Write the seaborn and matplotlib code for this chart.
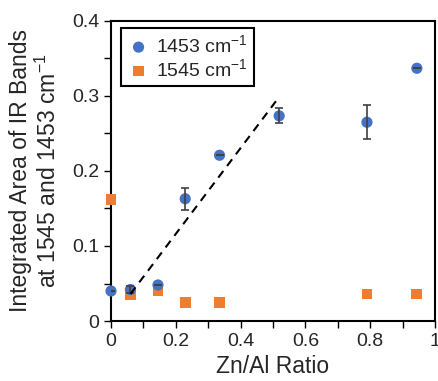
import matplotlib
matplotlib.use("Agg")
import matplotlib.pyplot as plt
import seaborn as sns
import pandas as pd
import numpy as np

# Data
ratio_1453 = [0.0, 0.060, 0.145, 0.229, 0.335, 0.519, 0.790, 0.944]
area_1453 = [0.040, 0.042, 0.048, 0.163, 0.221, 0.2735, 0.265, 0.337]
err_1453 = [0.0, 0.005, 0.0, 0.0145, 0.0, 0.010, 0.023, 0.0]

ratio_1545 = [0.0, 0.060, 0.145, 0.229, 0.335, 0.790, 0.944]
area_1545 = [0.162, 0.035, 0.041, 0.025, 0.0245, 0.036, 0.036]

fit_x = [0.060, 0.509]
fit_y = [0.036, 0.293]

xticks = [0, 0.2, 0.4, 0.6, 0.8, 1]
xtick_labels = ["0", "0.2", "0.4", "0.6", "0.8", "1"]
yticks = [0, 0.1, 0.2, 0.3, 0.4]
ytick_labels = ["0", "0.1", "0.2", "0.3", "0.4"]

sns.set_style("ticks")
plt.rcParams['font.family'] = ['Liberation Sans', 'DejaVu Sans']
plt.rcParams['mathtext.fontset'] = 'custom'
plt.rcParams['mathtext.rm'] = 'Liberation Sans'
plt.rcParams['mathtext.it'] = 'Liberation Sans'
plt.rcParams['mathtext.default'] = 'regular'

fig = plt.figure(figsize=(4.38, 3.81), dpi=100)
ax = fig.add_axes([111/438, 1-321/381, 324/438, 300/381])

blue = "#4472C4"
orange = "#ED7D31"
txt = "#262626"

df_o = pd.DataFrame({"x": ratio_1545, "y": area_1545})
df_b = pd.DataFrame({"x": ratio_1453, "y": area_1453})

lab_b = "1453 cm$^{-1}$"
lab_o = "1545 cm$^{-1}$"

sns.scatterplot(data=df_o, x="x", y="y", ax=ax, marker="s", s=60, color=orange,
                edgecolor="none", label=lab_o, zorder=3, clip_on=False)
sns.scatterplot(data=df_b, x="x", y="y", ax=ax, marker="o", s=65, color=blue,
                edgecolor="none", label=lab_b, zorder=4, clip_on=False)
ax.errorbar(ratio_1453, area_1453, yerr=err_1453, fmt="none", ecolor="#404040",
            elinewidth=1.2, capsize=3, capthick=1.2, zorder=5)
sns.lineplot(x=fit_x, y=fit_y, ax=ax, color="black", linestyle=(0, (4, 3)),
             linewidth=1.5, zorder=6)

ax.set_xlim(0, 1)
ax.set_ylim(0, 0.4)
ax.set_xticks(xticks)
ax.set_xticklabels(xtick_labels)
ax.set_yticks(yticks)
ax.set_yticklabels(ytick_labels)
ax.set_xticks(np.arange(0.1, 1.0, 0.2), minor=True)
ax.set_yticks(np.arange(0.05, 0.4, 0.1), minor=True)
ax.tick_params(which="both", direction="out", length=5, width=1, color="black",
               labelsize=14, labelcolor=txt)

for sp in ax.spines.values():
    sp.set_visible(True)
    sp.set_color("black")
    sp.set_linewidth(1.5)

ax.set_xlabel("Zn/Al Ratio", fontsize=16.5, color=txt, labelpad=4)
ax.set_ylabel("Integrated Area of IR Bands\nat 1545 and 1453 cm$^{-1}$", fontsize=16.5,
              color=txt, labelpad=8)

handles, labels = ax.get_legend_handles_labels()
order = [labels.index(lab_b), labels.index(lab_o)]
leg = ax.legend([handles[i] for i in order], [labels[i] for i in order],
                loc="upper left", bbox_to_anchor=(0.031, 0.975), fontsize=14,
                frameon=True, fancybox=False, framealpha=1, edgecolor="black",
                handletextpad=0.3, borderpad=0.3, labelspacing=0.1,
                handlelength=1.2, borderaxespad=0)
leg.get_frame().set_linewidth(1.5)
for t in leg.get_texts():
    t.set_color(txt)

fig.savefig("out.png", dpi=100)
